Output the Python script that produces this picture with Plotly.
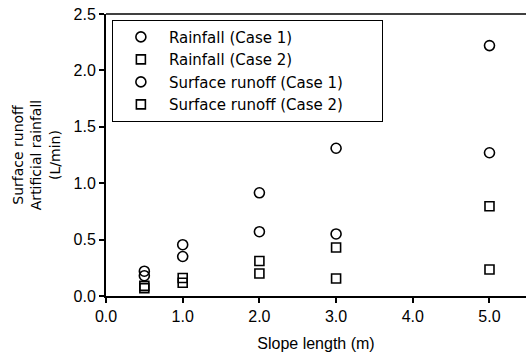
import plotly.graph_objects as go

slope_length = [0.5, 1.0, 2.0, 3.0, 5.0]
rainfall_case1 = [0.22, 0.455, 0.915, 1.31, 2.22]
rainfall_case2 = [0.09, 0.16, 0.31, 0.43, 0.795]
runoff_case1 = [0.18, 0.35, 0.57, 0.55, 1.27]
runoff_case2 = [0.07, 0.117, 0.20, 0.155, 0.235]

series = [
    ("Rainfall (Case 1)", rainfall_case1, "circle-open", 10),
    ("Rainfall (Case 2)", rainfall_case2, "square-open", 9),
    ("Surface runoff (Case 1)", runoff_case1, "circle-open", 10),
    ("Surface runoff (Case 2)", runoff_case2, "square-open", 9),
]

fig = go.Figure()
for name, vals, sym, sz in series:
    fig.add_trace(go.Scatter(
        x=slope_length, y=vals, mode="markers", name=name,
        marker=dict(symbol=sym, size=sz, color="black", line=dict(width=1.6, color="black")),
    ))

font = dict(family="Liberation Sans, Arial, sans-serif", color="black")
wide = dict(family="DejaVu Sans, sans-serif", color="black")
fig.update_layout(
    width=526, height=353,
    margin=dict(l=106, r=0, t=14, b=57),
    paper_bgcolor="white", plot_bgcolor="white",
    font=dict(size=12, **font),
    showlegend=True,
    legend=dict(orientation="h", x=0.014, y=0.98, xanchor="left", yanchor="top",
                bordercolor="black", borderwidth=1, bgcolor="white",
                font=dict(size=15, **wide), itemwidth=46, tracegroupgap=0,
                entrywidth=208, entrywidthmode="pixels"),
    xaxis=dict(range=[0, 5.476], tickvals=[0, 1, 2, 3, 4, 5], tickformat=".1f",
               ticks="outside", ticklen=5, tickwidth=1.5, tickcolor="black",
               showline=True, linecolor="black", linewidth=2, mirror=False,
               showgrid=False, zeroline=False,
               title=dict(text="Slope length (m)", font=dict(size=16, **font), standoff=14),
               tickfont=dict(size=16, **font)),
    yaxis=dict(range=[0, 2.5], tickvals=[0, 0.5, 1.0, 1.5, 2.0, 2.5], tickformat=".1f",
               ticks="outside", ticklen=5, tickwidth=1.5, tickcolor="black",
               showline=True, linecolor="black", linewidth=2,
               showgrid=False, zeroline=False,
               title=dict(text="Surface runoff<br>Artificial rainfall<br>(L/min)",
                          font=dict(size=14, **wide), standoff=10),
               tickfont=dict(size=16, **font)),
)
fig.add_shape(type="line", xref="paper", yref="paper", x0=0, x1=1, y0=1, y1=1,
              line=dict(color="black", width=1.5))

fig.write_html("out.html", config={"displayModeBar": False},
               post_script="document.body.style.margin='0';")
